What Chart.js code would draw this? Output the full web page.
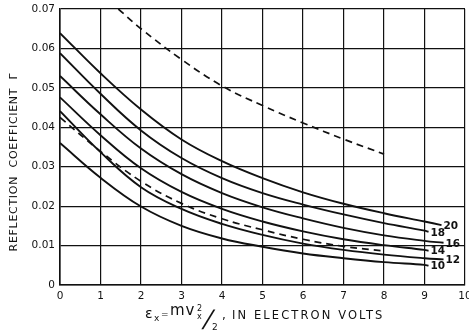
<!DOCTYPE html>
<html>
<head>
<meta charset="utf-8">
<script src="https://cdn.jsdelivr.net/npm/chart.js@4/dist/chart.umd.min.js"></script>
<style>
  html, body { margin: 0; padding: 0; background: #fff; }
  #c { display: block; }
</style>
</head>
<body>
<canvas id="c" width="469" height="332"></canvas>
<script>
// Electron energy grid (eV) shared by the solid curves
const energyEV = [0, 1, 2, 3, 4, 5, 6, 7, 8, 9];

// Reflection coefficient for each curve parameter, sampled on energyEV
const gamma20 = [0.0639, 0.0537, 0.0445, 0.0369, 0.0314, 0.0271, 0.0235, 0.0206, 0.0182, 0.0161];
const gamma18 = [0.0588, 0.0485, 0.0392, 0.0322, 0.0271, 0.0233, 0.0204, 0.0179, 0.0157, 0.0138];
const gamma16 = [0.0530, 0.0433, 0.0346, 0.0281, 0.0233, 0.0197, 0.0169, 0.0145, 0.0126, 0.0112];
const gamma14 = [0.0476, 0.0380, 0.0296, 0.0236, 0.0193, 0.0161, 0.0136, 0.0116, 0.0101, 0.0089];
const gamma12 = [0.0441, 0.0337, 0.0248, 0.0193, 0.0155, 0.0127, 0.0105, 0.0089, 0.0077, 0.0068];
const gamma10 = [0.0360, 0.0272, 0.0199, 0.0150, 0.0118, 0.0097, 0.0080, 0.0068, 0.0058, 0.0051];

// Where each solid curve stops (energy, coefficient); its label sits just past it
const curveNames = ['20', '18', '16', '14', '12', '10'];
const endEnergy  = [9.42, 9.10, 9.47, 9.10, 9.47, 9.10];
const endGamma   = [0.0152, 0.0135, 0.0107, 0.0087, 0.0065, 0.0049];

// Lower dashed curve, sampled on energyEV up to 8 eV
const dashedLow = [0.0425, 0.0339, 0.0263, 0.0207, 0.0168, 0.0140, 0.0116, 0.0098, 0.0086];

// Upper dashed curve
const dashedHighEnergy = [1.44, 2, 3, 4, 5, 6, 7, 8];
const dashedHighGamma  = [0.0700, 0.0650, 0.0572, 0.0505, 0.0455, 0.0411, 0.0370, 0.0332];

// Axis ticks
const xTicks = [0, 1, 2, 3, 4, 5, 6, 7, 8, 9, 10];
const yTicks = [0, 0.01, 0.02, 0.03, 0.04, 0.05, 0.06, 0.07];

const INK = '#111';
const FONT = '"DejaVu Sans", sans-serif';

function pts(xs, ys) { return ys.map((y, i) => ({ x: xs[i], y })); }

const solidSeries = [gamma20, gamma18, gamma16, gamma14, gamma12, gamma10];
const datasets = solidSeries.map((vals, i) => ({
  label: curveNames[i],
  data: pts(energyEV, vals).concat([{ x: endEnergy[i], y: endGamma[i] }]),
  borderColor: INK,
  borderWidth: 1.9,
  pointRadius: 0,
  fill: false,
  tension: 0.4,
  curveLabel: true
}));
datasets.push({
  label: 'dashed-low',
  data: pts(energyEV, dashedLow),
  borderColor: INK, borderWidth: 1.7, borderDash: [7, 5],
  pointRadius: 0, fill: false, tension: 0.4
});
datasets.push({
  label: 'dashed-high',
  data: pts(dashedHighEnergy, dashedHighGamma),
  borderColor: INK, borderWidth: 1.7, borderDash: [7, 5],
  pointRadius: 0, fill: false, tension: 0.4
});

// Axis titles and curve-parameter labels
const annotations = {
  id: 'annotations',
  afterDraw(chart) {
    const ctx = chart.ctx;
    const xs = chart.scales.x, ys = chart.scales.y;
    ctx.save();
    ctx.fillStyle = INK;

    // curve labels at the end of each solid curve
    ctx.font = 'bold 10.5px ' + FONT;
    ctx.textAlign = 'left';
    ctx.textBaseline = 'middle';
    chart.data.datasets.forEach(ds => {
      if (!ds.curveLabel) return;
      const last = ds.data[ds.data.length - 1];
      ctx.fillText(ds.label, xs.getPixelForValue(last.x) + 2, ys.getPixelForValue(last.y) + 1);
    });

    // y-axis title
    ctx.save();
    ctx.translate(14, 162);
    ctx.rotate(-Math.PI / 2);
    ctx.textAlign = 'center';
    ctx.textBaseline = 'middle';
    ctx.font = '11px ' + FONT;
    ctx.letterSpacing = '0.7px';
    ctx.fillText('REFLECTION  COEFFICIENT  \u0393', 0, 0);
    ctx.restore();

    // x-axis title: ε_x = m v_x² / 2, IN ELECTRON VOLTS
    ctx.textAlign = 'left';
    ctx.textBaseline = 'alphabetic';
    ctx.font = '14px ' + FONT;
    ctx.fillText('\u03B5', 145, 318);
    ctx.font = '9px ' + FONT;
    ctx.fillText('x', 154, 321);
    ctx.fillText('=', 161, 317);
    ctx.font = '15px ' + FONT;
    ctx.letterSpacing = '1px';
    ctx.fillText('mv', 170, 315);
    ctx.letterSpacing = '0px';
    ctx.font = '8px ' + FONT;
    ctx.fillText('2', 197, 311);
    ctx.fillText('x', 197, 319);
    // slanted fraction bar
    ctx.save();
    ctx.font = '24px ' + FONT;
    ctx.transform(1, 0, -0.3, 1, 0, 0);
    ctx.fillText('/', 202 + 0.3 * 327, 327);
    ctx.restore();
    ctx.font = '9px ' + FONT;
    ctx.fillText('2', 212, 330);
    ctx.font = '12px ' + FONT;
    ctx.fillText(',', 222, 319);
    ctx.font = '11.5px ' + FONT;
    ctx.letterSpacing = '2.1px';
    ctx.fillText('IN ELECTRON VOLTS', 232, 319);
    ctx.restore();
  }
};

new Chart(document.getElementById('c'), {
  type: 'line',
  data: { datasets },
  options: {
    responsive: false,
    animation: false,
    events: [],
    layout: { padding: { top: 9, right: 4, left: 0, bottom: 0 } },
    plugins: { legend: { display: false }, tooltip: { enabled: false } },
    scales: {
      x: {
        type: 'linear', min: 0, max: 10,
        afterBuildTicks(s) { s.ticks = xTicks.map(v => ({ value: v })); },
        ticks: { color: INK, font: { family: FONT, size: 10.5 }, padding: 5, maxRotation: 0, autoSkip: false,
                 callback: v => String(v) },
        grid: { color: INK, lineWidth: 1.2, drawTicks: false },
        border: { color: INK, width: 1.6 },
        afterFit(s) { s.height = 47; s.paddingLeft = 0; s.paddingRight = 0; }
      },
      y: {
        type: 'linear', min: 0, max: 0.07,
        afterBuildTicks(s) { s.ticks = yTicks.map(v => ({ value: v })); },
        ticks: { color: INK, font: { family: FONT, size: 10.5 }, padding: 5, autoSkip: false,
                 callback: v => (v === 0 ? '0' : Number(v).toFixed(2)) },
        grid: { color: INK, lineWidth: 1.2, drawTicks: false },
        border: { color: INK, width: 1.6 },
        afterFit(s) { s.width = 60; s.paddingTop = 0; s.paddingBottom = 0; }
      }
    }
  },
  plugins: [annotations]
});
</script>
</body>
</html>
